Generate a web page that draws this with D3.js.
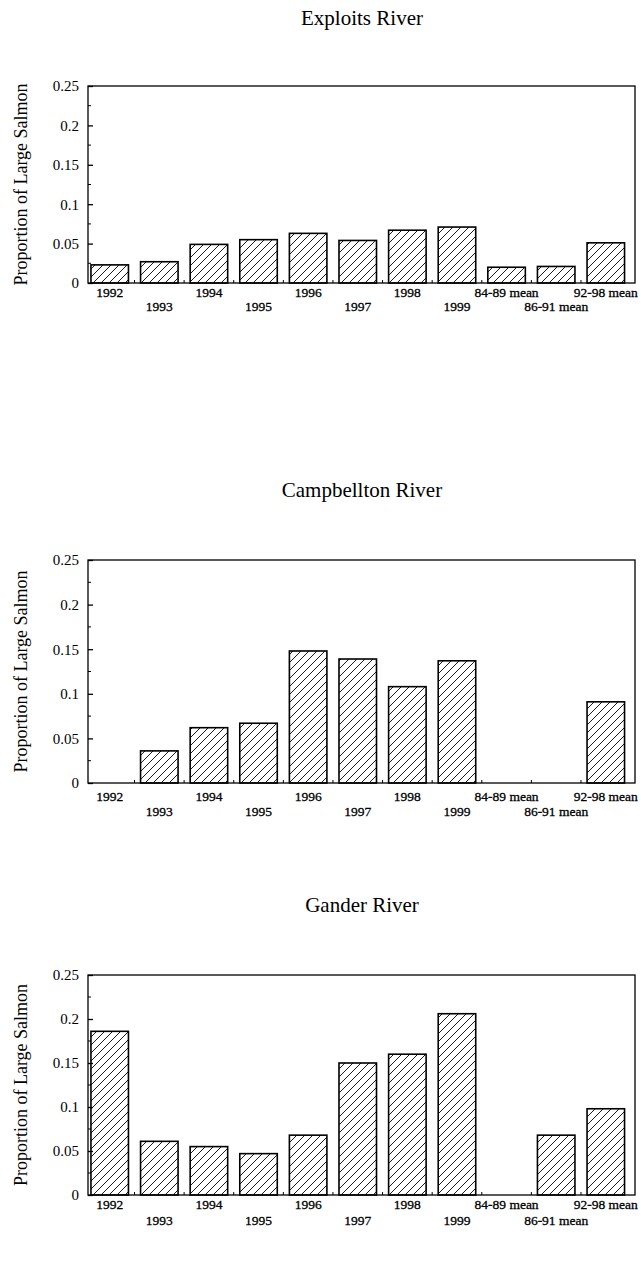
<!DOCTYPE html>
<html>
<head>
<meta charset="utf-8">
<script src="https://cdn.jsdelivr.net/npm/d3@7"></script>
<style>
  html, body { margin: 0; padding: 0; background: #fff; }
  svg { display: block; }
  svg text { font-family: "Liberation Serif", "Times New Roman", Times, serif !important; fill: #000; }
</style>
</head>
<body>
<svg id="chart" width="641" height="1264"></svg>
<script>
// ---- data ----
const categories = ["1992", "1993", "1994", "1995", "1996", "1997", "1998", "1999",
                    "84-89 mean", "86-91 mean", "92-98 mean"];
const yTicks = [0, 0.05, 0.1, 0.15, 0.2, 0.25];
const yTickLabels = ["0", "0.05", "0.1", "0.15", "0.2", "0.25"];
const riverNames = ["Exploits River", "Campbellton River", "Gander River"];
const exploitsValues    = [0.023, 0.027, 0.049, 0.055, 0.063, 0.054, 0.067, 0.071, 0.020, 0.021, 0.051];
const campbelltonValues = [null, 0.036, 0.062, 0.067, 0.148, 0.139, 0.108, 0.137, null, null, 0.091];
const ganderValues      = [0.186, 0.061, 0.055, 0.047, 0.068, 0.150, 0.160, 0.206, null, 0.068, 0.098];
const yAxisTitle = "Proportion of Large Salmon";

const FONT = "Liberation Serif, Times New Roman, serif";
const svg = d3.select("#chart");

// hatch pattern
const defs = svg.append("defs");
const pat = defs.append("pattern")
  .attr("id", "hatch").attr("patternUnits", "userSpaceOnUse")
  .attr("width", 8).attr("height", 8);
pat.append("rect").attr("width", 8).attr("height", 8).attr("fill", "#fff");
pat.append("path").attr("d", "M-2,10 L10,-2 M-6,6 L6,-6 M2,14 L14,2")
  .attr("stroke", "#000").attr("stroke-width", 0.9);

const layouts = [
  { titleY: 25,  top: 86,  bottom: 283,  l1: 297,  l2: 311 },
  { titleY: 497, top: 560, bottom: 783,  l1: 801,  l2: 816 },
  { titleY: 912, top: 975, bottom: 1195, l1: 1209, l2: 1225 }
];
const seriesList = [exploitsValues, campbelltonValues, ganderValues];

const left = 88, right = 635;

layouts.forEach((L, i) => {
  const values = seriesList[i];
  const g = svg.append("g").attr("font-family", FONT);

  const x = d3.scaleBand().domain(categories).range([left, right])
    .paddingInner(0.244).paddingOuter(0.135).align(0.22);
  const y = d3.scaleLinear().domain([0, 0.25]).range([L.bottom, L.top]);

  // title
  g.append("text").attr("x", 362).attr("y", L.titleY)
    .attr("text-anchor", "middle").attr("font-size", 21).text(riverNames[i]);

  // bars
  const data = categories.map((c, k) => ({ c, v: values[k] })).filter(d => d.v != null && d.v > 0);
  g.selectAll("rect.bar").data(data).join("rect")
    .attr("class", "bar")
    .attr("x", d => x(d.c))
    .attr("y", d => y(d.v))
    .attr("width", x.bandwidth())
    .attr("height", d => y(0) - y(d.v))
    .attr("fill", "url(#hatch)")
    .attr("stroke", "#000").attr("stroke-width", 1.6);

  // frame
  g.append("rect").attr("x", left).attr("y", L.top)
    .attr("width", right - left).attr("height", L.bottom - L.top)
    .attr("fill", "none").attr("stroke", "#000").attr("stroke-width", 1.3);

  // y axis with inward ticks
  const yAxis = d3.axisLeft(y).tickValues(yTicks)
    .tickFormat((d, k) => yTickLabels[k]).tickSizeInner(-5).tickSizeOuter(0).tickPadding(9);
  const ya = g.append("g").attr("transform", `translate(${left},0)`).call(yAxis)
    .attr("font-family", FONT).attr("font-size", 15);
  ya.select(".domain").remove();
  ya.selectAll("line").attr("stroke-width", 1.3);
  // minor ticks
  const minor = d3.range(0.025, 0.25, 0.05);
  g.selectAll("line.minor").data(minor).join("line")
    .attr("x1", left).attr("x2", left + 3)
    .attr("y1", d => y(d)).attr("y2", d => y(d))
    .attr("stroke", "#000").attr("stroke-width", 1);

  // x small ticks at band boundaries
  const bounds = categories.slice(1).map(c => x(c) - x.step() * x.paddingInner() / 2);
  g.selectAll("line.xt").data(bounds).join("line")
    .attr("x1", d => d).attr("x2", d => d)
    .attr("y1", L.bottom).attr("y2", L.bottom - 3)
    .attr("stroke", "#000").attr("stroke-width", 1);

  // x labels alternating rows
  g.selectAll("text.xl").data(categories).join("text")
    .attr("class", "xl")
    .attr("x", d => x(d) + x.bandwidth() / 2)
    .attr("y", (d, k) => k % 2 === 0 ? L.l1 : L.l2)
    .attr("text-anchor", "middle")
    .attr("font-size", 13.5)
    .attr("stroke", "#000").attr("stroke-width", 0.3)
    .text(d => d);

  // y axis title
  g.append("text")
    .attr("transform", `translate(27,${(L.top + L.bottom) / 2}) rotate(-90)`)
    .attr("text-anchor", "middle").attr("font-size", 18).text(yAxisTitle);
});
</script>
</body>
</html>
